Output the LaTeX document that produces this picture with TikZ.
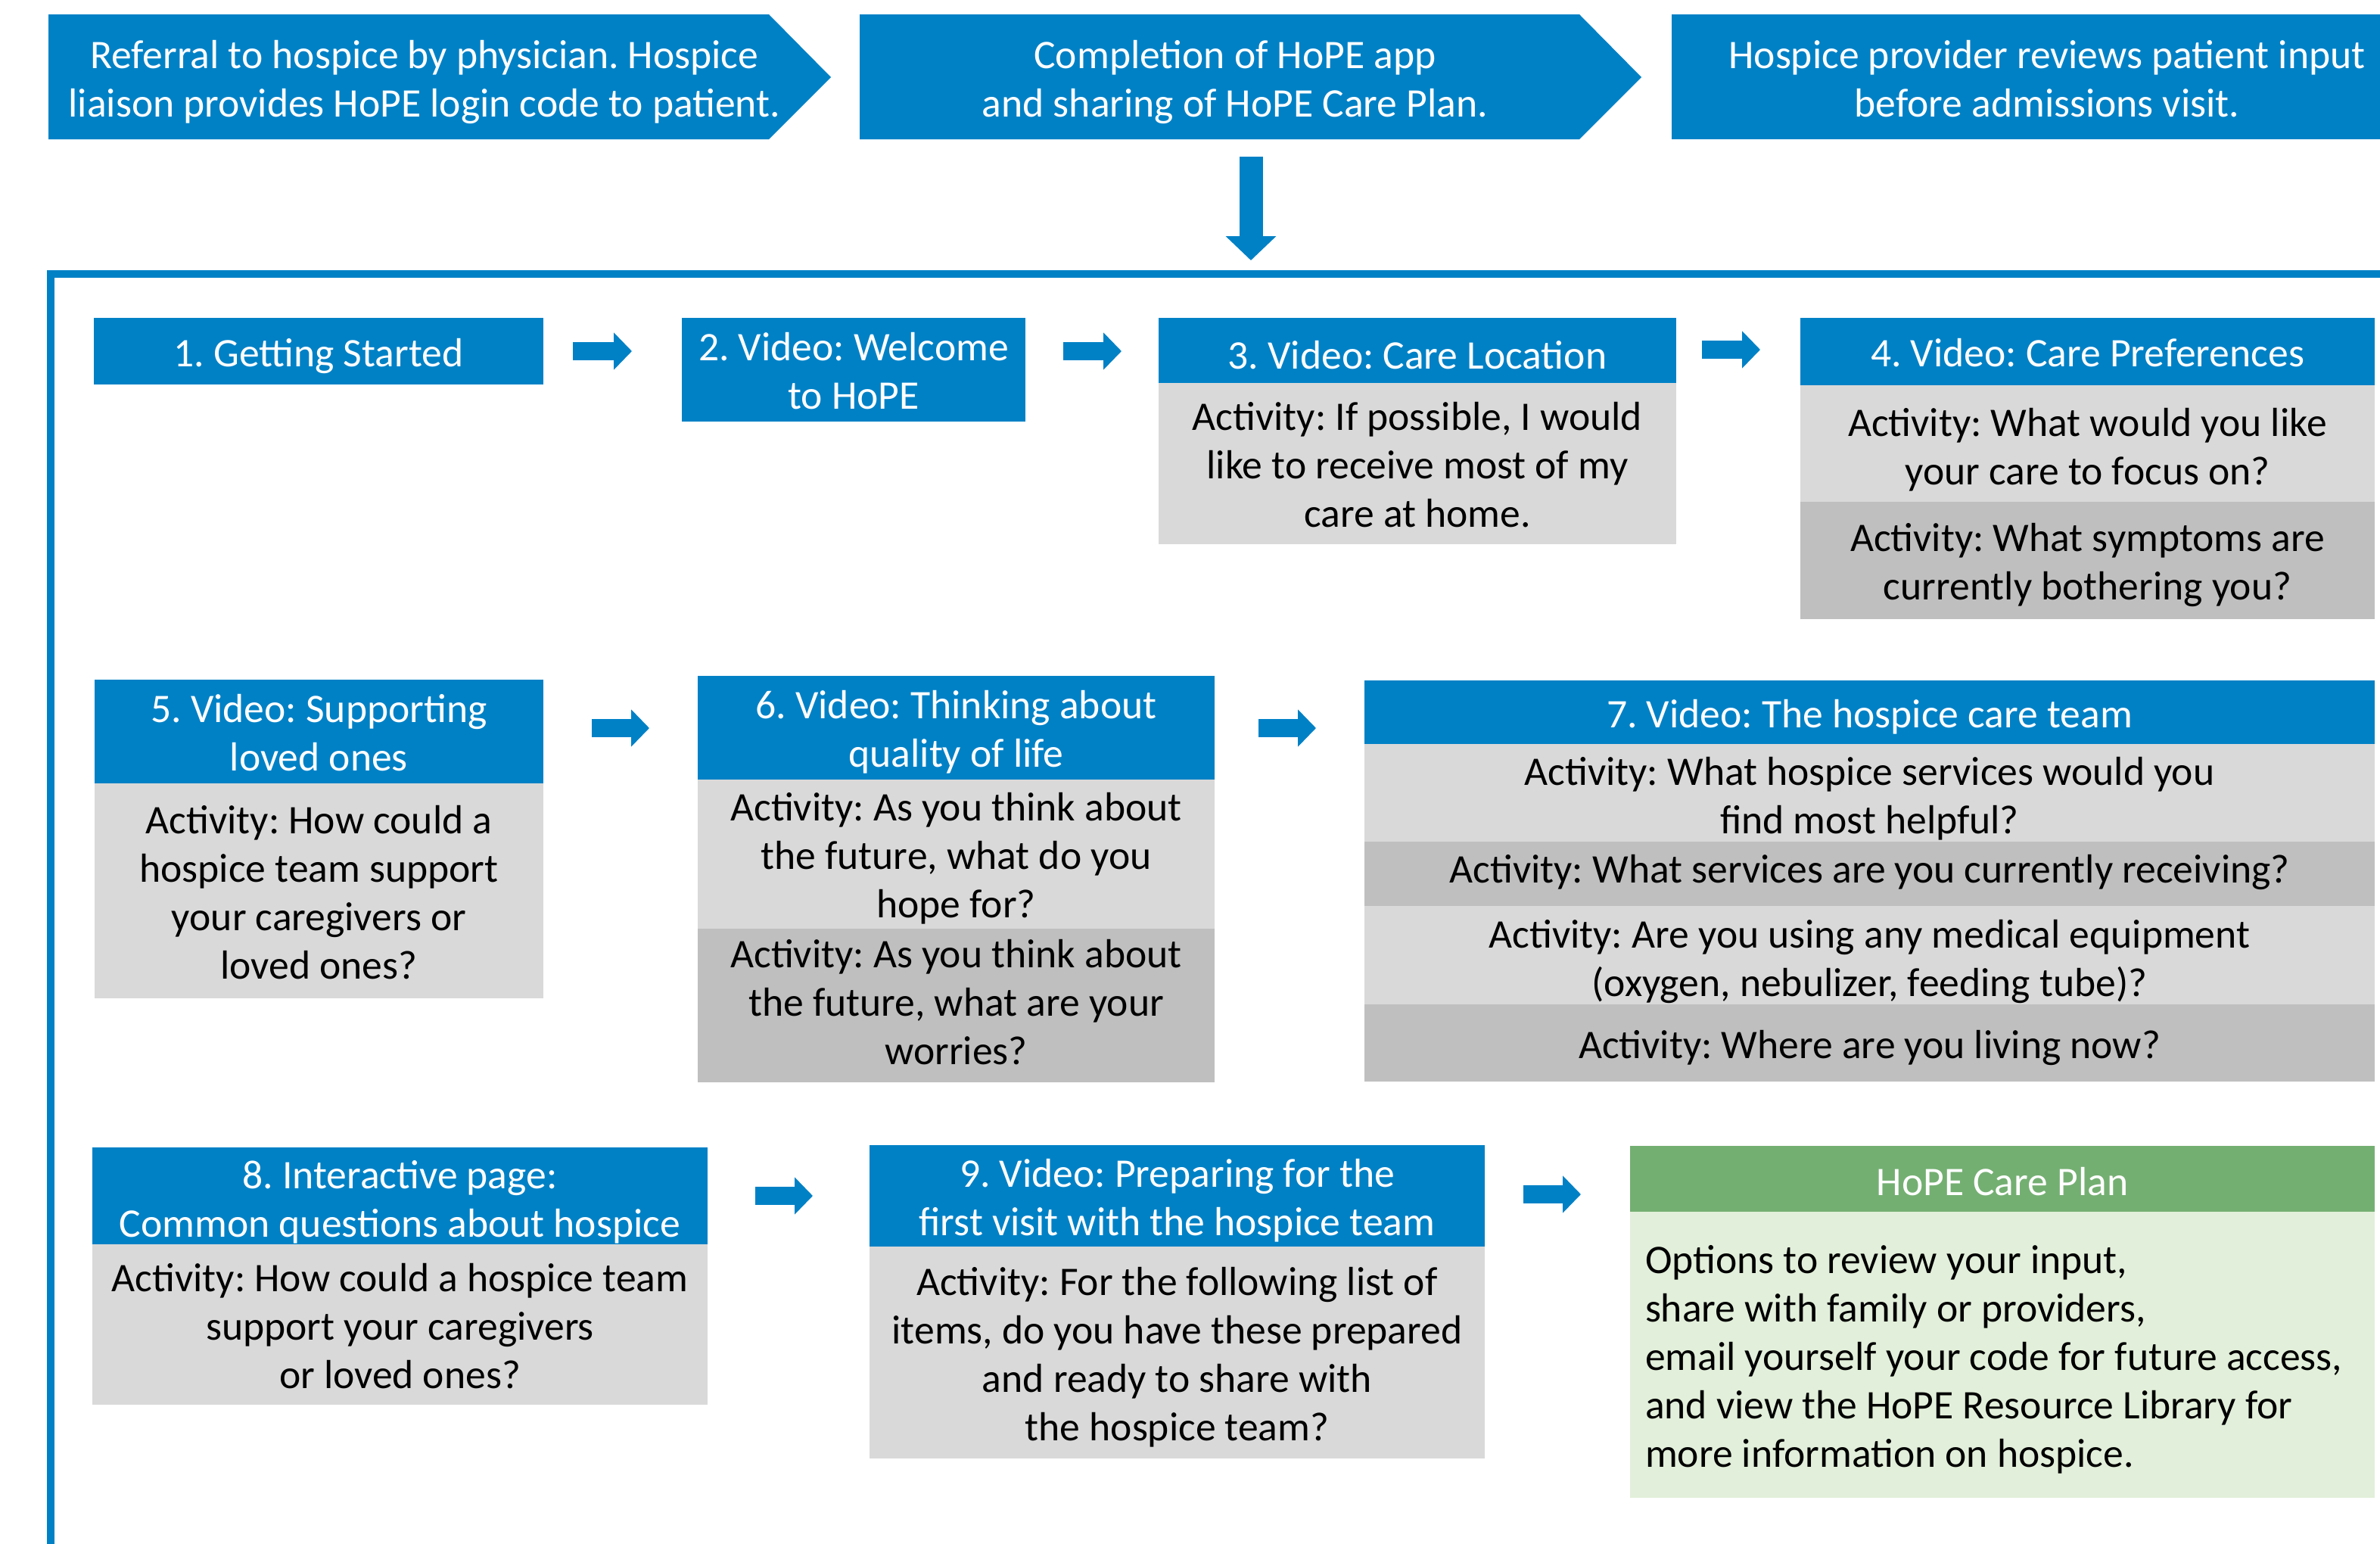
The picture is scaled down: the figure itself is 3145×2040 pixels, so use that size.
\documentclass[tikz,border=0pt]{standalone}
\usepackage{fontspec}
\setmainfont{Carlito}
\usetikzlibrary{arrows.meta}
\definecolor{hblue}{HTML}{0081C6}
\definecolor{lgray}{HTML}{D9D9D9}
\definecolor{dgray}{HTML}{BFBFBF}
\definecolor{hgreen}{HTML}{74AF72}
\definecolor{lgreen}{HTML}{E2EFDA}
\def\tsh{1pt}
\begin{document}
\frenchspacing
\begin{tikzpicture}[x=0.5pt,y=-0.5pt,
  every node/.style={inner sep=0pt, outer sep=0pt, font=\fontsize{26.8}{32}\selectfont, align=flush center,
    execute at begin node={\rule{0pt}{\dimexpr 25pt+\tsh\relax}},
    execute at end node={\rule[\dimexpr \tsh-7pt\relax]{0pt}{\dimexpr 7pt-\tsh\relax}}},
  tsh/.code={\def\tsh{#1}},
  bx/.style n args={2}{minimum width=#1, text width=#1, minimum height=#2},
  hdr/.style={fill=hblue, text=white},
  ghdr/.style={fill=hgreen, text=white},
  lt/.style={fill=lgray, text=black},
  dk/.style={fill=dgray, text=black},
  blk/.style={draw=hblue, line width=12pt, -{Triangle[length=12pt,width=24pt]}},
]
\useasboundingbox (0,0) rectangle (3145,2040);
\clip (0,0) rectangle (3145,2040);
% top process
\fill[hblue] (64,19) -- (1016,19) -- (1098,102) -- (1016,184) -- (64,184) -- cycle;
\node[text=white, text width=520pt] (c1) at (561,102) {Referral to hospice by physician. Hospice\\liaison provides HoPE login code to patient.};
\fill[hblue] (1136,19) -- (2087,19) -- (2169,102) -- (2087,184) -- (1136,184) -- cycle;
\node[text=white, text width=460pt] (c2) at (1632,102) {Completion of HoPE app\\and sharing of HoPE Care Plan.};
\fill[hblue] (2209,19) rectangle (3200,184);
\node[text=white, text width=460pt] (c3) at (2705,102) {Hospice provider reviews patient input\\before admissions visit.};
\coordinate (d1) at (1653,207);
\coordinate (d2) at (1653,344);
\draw[draw=hblue, line width=15.5pt, -{Triangle[length=16pt,width=32.5pt]}] (d1) -- (d2);
% frame
\draw[hblue, line width=5pt] (66.5,2100) -- (66.5,362) -- (3200,362);
% row 1
\node[hdr, bx={297pt}{44pt}] (n1) at (421,464) {1. Getting Started};
\node[hdr, bx={227pt}{68.5pt}] (n2) at (1128,488.5) {2. Video: Welcome\\to HoPE};
\node[hdr, bx={342pt}{43pt}, tsh=3pt] (n3) at (1873,463) {3. Video: Care Location};
\node[lt, bx={342pt}{106.5pt}] (n3a) at (1873,612.5) {Activity: If possible, I would\\like to receive most of my\\care at home.};
\node[hdr, bx={379.5pt}{44.5pt}] (n4) at (2758.5,464.5) {4. Video: Care Preferences};
\node[lt, bx={379.5pt}{77pt}, tsh=2pt] (n4a) at (2758.5,586) {Activity: What would you like\\your care to focus on?};
\node[dk, bx={379.5pt}{77.5pt}] (n4b) at (2758.5,740.5) {Activity: What symptoms are\\currently bothering you?};
\coordinate (a1s) at (757,464); \coordinate (a1e) at (835,464);
\coordinate (a2s) at (1405,464); \coordinate (a2e) at (1482,464);
\coordinate (a3s) at (2249,462); \coordinate (a3e) at (2326,462);
\draw[blk] (a1s) -- (a1e);
\draw[blk] (a2s) -- (a2e);
\draw[blk] (a3s) -- (a3e);
% row 2
\node[hdr, bx={296.5pt}{68.5pt}] (n5) at (421.5,966.5) {5. Video: Supporting\\loved ones};
\node[lt, bx={296.5pt}{142pt}] (n5a) at (421.5,1177) {Activity: How could a\\hospice team support\\your caregivers or\\loved ones?};
\node[hdr, bx={341.5pt}{68.5pt}] (n6) at (1263.5,961.5) {6. Video: Thinking about\\quality of life};
\node[lt, bx={341.5pt}{98.5pt}] (n6a) at (1263.5,1128.5) {Activity: As you think about\\the future, what do you\\hope for?};
\node[dk, bx={341.5pt}{101.5pt}, tsh=-2pt] (n6b) at (1263.5,1328.5) {Activity: As you think about\\the future, what are your\\worries?};
\node[hdr, bx={667.5pt}{42pt}] (n7) at (2470.5,941) {7. Video: The hospice care team};
\node[lt, bx={667.5pt}{64.5pt}, tsh=2pt] (n7a) at (2470.5,1047.5) {Activity: What hospice services would you\\find most helpful?};
\node[dk, bx={667.5pt}{42.5pt}, tsh=-3pt] (n7b) at (2470.5,1154.5) {Activity: What services are you currently receiving?};
\node[lt, bx={667.5pt}{65pt}, tsh=2pt] (n7c) at (2470.5,1262) {Activity: Are you using any medical equipment\\(oxygen, nebulizer, feeding tube)?};
\node[dk, bx={667.5pt}{51pt}] (n7d) at (2470.5,1378) {Activity: Where are you living now?};
\coordinate (a4s) at (782,962); \coordinate (a4e) at (858,962);
\coordinate (a5s) at (1663,962); \coordinate (a5e) at (1739,962);
\draw[blk] (a4s) -- (a4e);
\draw[blk] (a5s) -- (a5e);
% row 3
\node[hdr, bx={406.5pt}{64pt}, tsh=2pt] (n8) at (528.5,1580) {8. Interactive page:\\Common questions about hospice};
\node[lt, bx={406.5pt}{106pt}] (n8a) at (528.5,1750) {Activity: How could a hospice team\\support your caregivers\\or loved ones?};
\node[hdr, bx={406.5pt}{67pt}] (n9) at (1555.5,1580) {9. Video: Preparing for the\\first visit with the hospice team};
\node[lt, bx={406.5pt}{140pt}] (n9a) at (1555.5,1787) {Activity: For the following list of\\items, do you have these prepared\\and ready to share with\\the hospice team?};
\node[ghdr, bx={492pt}{43.5pt}, tsh=2pt] (n10) at (2646,1557.5) {HoPE Care Plan};
\node[fill=lgreen, text=black, minimum width=492pt, minimum height=189pt, inner xsep=10pt, text width=472pt, align=flush left] (n10a) at (2646,1790) {Options to review your input,\\share with family or providers,\\email yourself your code for future access,\\and view the HoPE Resource Library for\\more information on hospice.};
\coordinate (a6s) at (998,1580); \coordinate (a6e) at (1074,1580);
\coordinate (a7s) at (2013,1578); \coordinate (a7e) at (2089,1578);
\draw[blk] (a6s) -- (a6e);
\draw[blk] (a7s) -- (a7e);
\end{tikzpicture}
\end{document}
